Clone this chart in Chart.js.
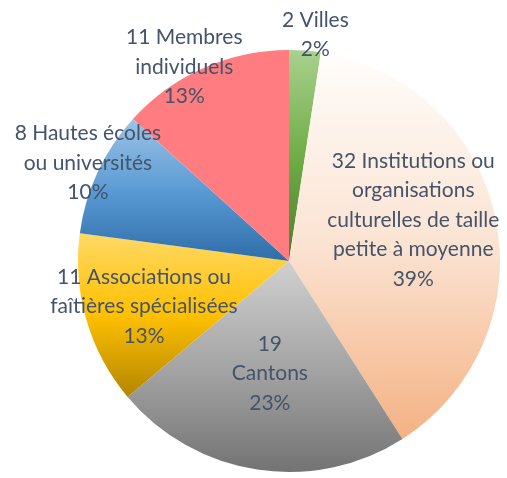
<!DOCTYPE html>
<html>
<head>
<meta charset="utf-8">
<script src="https://cdn.jsdelivr.net/npm/chart.js@4.4.1/dist/chart.umd.min.js"></script>
<style>
  html, body { margin: 0; padding: 0; background: #fff; }
  #wrap { width: 507px; height: 478px; }
</style>
</head>
<body>
<div id="wrap"><canvas id="chartpie"></canvas></div>
<script>
// data
const categories = [
  ["2 Villes"],
  ["32 Institutions ou", "organisations", "culturelles de taille", "petite à moyenne"],
  ["19", "Cantons"],
  ["11 Associations ou", "faîtières spécialisées"],
  ["8 Hautes écoles", "ou universités"],
  ["11 Membres", "individuels"]
];
const counts = [2, 32, 19, 11, 8, 11];
const percentLabels = ["2%", "39%", "23%", "13%", "10%", "13%"];

// styles: top / mid / bottom colours of each slice gradient, label placement
const gradTop = ["#A9D18E", "#FFFDFB", "#D0D0D0", "#FFD966", "#9DC3E6", "#FF7C80"];
const gradMid = ["#70AD47", "#FBE3D2", "#A5A5A5", "#FFC000", "#5B9BD5", "#FF7C80"];
const gradBottom = ["#4E7D2F", "#F4B183", "#737373", "#B38600", "#2E6DA8", "#FF7C80"];
const labelDist = [1.08, 0.62, 0.54, 0.72, 1.06, 1.045];
const labelShift = [2.3, -6.3, 1, -1.1, 1, -4.5]; // degrees

function sliceBox(el) {
  var pts = [[el.x, el.y]];
  var a0 = el.startAngle, a1 = el.endAngle, r = el.outerRadius;
  pts.push([el.x + Math.cos(a0) * r, el.y + Math.sin(a0) * r]);
  pts.push([el.x + Math.cos(a1) * r, el.y + Math.sin(a1) * r]);
  for (var k = -4; k <= 8; k++) {
    var a = k * Math.PI / 2;
    if (a > a0 && a < a1) pts.push([el.x + Math.cos(a) * r, el.y + Math.sin(a) * r]);
  }
  var top = Infinity, bot = -Infinity;
  for (var i = 0; i < pts.length; i++) {
    if (pts[i][1] < top) top = pts[i][1];
    if (pts[i][1] > bot) bot = pts[i][1];
  }
  return { top: top, bottom: bot };
}

// gradient fills need the slice geometry, so set them just before drawing
const sliceGradients = {
  id: "sliceGradients",
  beforeDatasetsDraw(chart) {
    var meta = chart.getDatasetMeta(0);
    meta.data.forEach(function (el, i) {
      var box = sliceBox(el);
      var g = chart.ctx.createLinearGradient(0, box.top, 0, box.bottom);
      g.addColorStop(0, gradTop[i]);
      g.addColorStop(0.5, gradMid[i]);
      g.addColorStop(1, gradBottom[i]);
      el.options.backgroundColor = g;
    });
  }
};

const pieLabels = {
  id: "pieLabels",
  afterDatasetsDraw(chart) {
    var ctx = chart.ctx;
    var meta = chart.getDatasetMeta(0);
    ctx.save();
    ctx.fillStyle = "#44546A";
    ctx.font = "21px Lato";
    ctx.textAlign = "center";
    ctx.textBaseline = "middle";
    var lh = 29.5;
    meta.data.forEach(function (el, i) {
      var mid = (el.startAngle + el.endAngle) / 2 + labelShift[i] * Math.PI / 180;
      var r = el.outerRadius * labelDist[i];
      var x = el.x + Math.cos(mid) * r;
      var y = el.y + Math.sin(mid) * r;
      var lines = categories[i].concat([percentLabels[i]]);
      var y0 = y - (lines.length - 1) * lh / 2;
      for (var j = 0; j < lines.length; j++) {
        ctx.fillText(lines[j], x, y0 + j * lh);
      }
    });
    ctx.restore();
  }
};

var ctx_chart = document.getElementById("chartpie").getContext("2d");
var chart = new Chart(ctx_chart, {
  type: "pie",
  data: {
    labels: categories.map(function (c) { return c.join(" "); }),
    datasets: [{
      data: counts,
      backgroundColor: gradMid,
      borderWidth: 0
    }]
  },
  options: {
    responsive: true,
    maintainAspectRatio: false,
    animation: false,
    layout: { padding: { left: 78, right: 7, top: 50, bottom: 6 } },
    plugins: {
      legend: { display: false },
      tooltip: { enabled: false }
    }
  },
  plugins: [sliceGradients, pieLabels]
});
</script>
</body>
</html>
